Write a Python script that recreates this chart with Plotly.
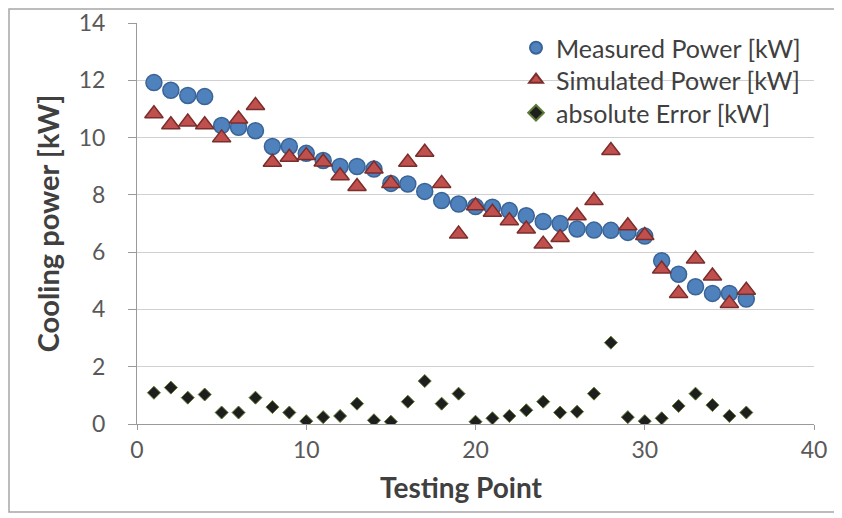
import plotly.graph_objects as go

testing_point = list(range(1, 37))
measured_kw = [11.92, 11.65, 11.47, 11.43, 10.42, 10.36, 10.24, 9.69, 9.69, 9.45,
               9.20, 8.99, 8.99, 8.90, 8.40, 8.38, 8.12, 7.80, 7.68, 7.59,
               7.57, 7.45, 7.27, 7.07, 7.00, 6.81, 6.77, 6.76, 6.69, 6.56,
               5.70, 5.23, 4.79, 4.56, 4.56, 4.36]
simulated_kw = [10.83, 10.45, 10.54, 10.45, 9.99, 10.65, 11.12, 9.14, 9.31, 9.37,
                9.15, 8.67, 8.29, 8.90, 8.40, 9.14, 9.49, 8.40, 6.63, 7.62,
                7.39, 7.10, 6.81, 6.28, 6.51, 7.27, 7.80, 9.55, 6.92, 6.58,
                5.41, 4.56, 5.76, 5.17, 4.21, 4.67]
abs_error_kw = [1.09, 1.27, 0.92, 1.03, 0.40, 0.40, 0.92, 0.59, 0.40, 0.10,
                0.24, 0.28, 0.71, 0.13, 0.08, 0.78, 1.50, 0.71, 1.06, 0.08,
                0.20, 0.28, 0.48, 0.78, 0.40, 0.43, 1.06, 2.84, 0.24, 0.10,
                0.20, 0.63, 1.06, 0.66, 0.28, 0.40]

series_names = ["Measured Power [kW]", "Simulated Power [kW]", "absolute Error [kW]"]
x_ticks = [0, 10, 20, 30, 40]
y_ticks = [0, 2, 4, 6, 8, 10, 12, 14]
x_title = "Testing Point"
y_title = "Cooling power [kW]"

FONT = "Lato, 'Open Sans', sans-serif"

fig = go.Figure()
fig.add_trace(go.Scatter(
    x=testing_point, y=measured_kw, mode="markers", name=series_names[0],
    legend="legend",
    marker=dict(symbol="circle", size=16, color="#4F81BD",
                line=dict(color="#3A6496", width=1.5))))
fig.add_trace(go.Scatter(
    x=testing_point, y=simulated_kw, mode="markers", name=series_names[1],
    legend="legend2",
    marker=dict(symbol="triangle-up", size=16, color="#C0504D",
                line=dict(color="#7A2E2C", width=1.5))))
fig.add_trace(go.Scatter(
    x=testing_point, y=abs_error_kw, mode="markers", name=series_names[2],
    legend="legend3",
    marker=dict(symbol="diamond", size=10, color="#1E1E1E",
                line=dict(color="#5C7A36", width=1))))

# the page body has an 8px margin, so the figure is drawn 8px in from the window corner
W, H = 834, 510
ml, mr, mt, mb = 129, 28, 15, 94
pw, ph = W - ml - mr, H - mt - mb

def px_x(p):
    return (p - ml) / pw

def px_y(p):
    return (H - mb - p) / ph

fig.add_shape(type="rect", xref="paper", yref="paper",
              x0=px_x(1), x1=px_x(827), y0=px_y(504), y1=px_y(1),
              line=dict(color="#A6A6A6", width=1.5), layer="below")

def legend_box(row_y):
    return dict(x=px_x(508), y=px_y(row_y), xanchor="left", yanchor="middle",
                bgcolor="rgba(255,255,255,0)", font=dict(size=25, color="#404040"),
                itemwidth=30, itemsizing="constant", tracegroupgap=0)

fig.add_annotation(text="<b>" + x_title + "</b>", xref="paper", yref="paper",
                   x=px_x(453), y=px_y(479), xanchor="center", yanchor="middle",
                   showarrow=False, font=dict(size=28, color="#404040"))

fig.update_layout(
    width=W, height=H,
    margin=dict(l=ml, r=mr, t=mt, b=mb, autoexpand=False),
    paper_bgcolor="white", plot_bgcolor="white",
    font=dict(family=FONT, size=23, color="#404040"),
    showlegend=True,
    legend=legend_box(40),
    legend2=legend_box(72),
    legend3=legend_box(105),
    xaxis=dict(range=[0, 40], tickvals=x_ticks, showgrid=False, zeroline=False,
               showline=True, linecolor="#9A9A9A", linewidth=1,
               ticks="outside", ticklen=5, tickcolor="#9A9A9A",
               ticklabeloverflow="allow",
               tickfont=dict(size=23, color="#595959")),
    yaxis=dict(range=[0, 14], tickvals=y_ticks, showgrid=True, gridcolor="#D0D0D0",
               gridwidth=1, zeroline=False, showline=True, linecolor="#9A9A9A",
               linewidth=1, ticks="outside", ticklen=8, tickcolor="#9A9A9A",
               ticklabelstandoff=18, ticklabeloverflow="allow",
               tickfont=dict(size=23, color="#595959"),
               title=dict(text="<b>" + y_title + "</b>", font=dict(size=29, color="#404040"),
                          standoff=10)),
)

fig.write_html("out.html")
